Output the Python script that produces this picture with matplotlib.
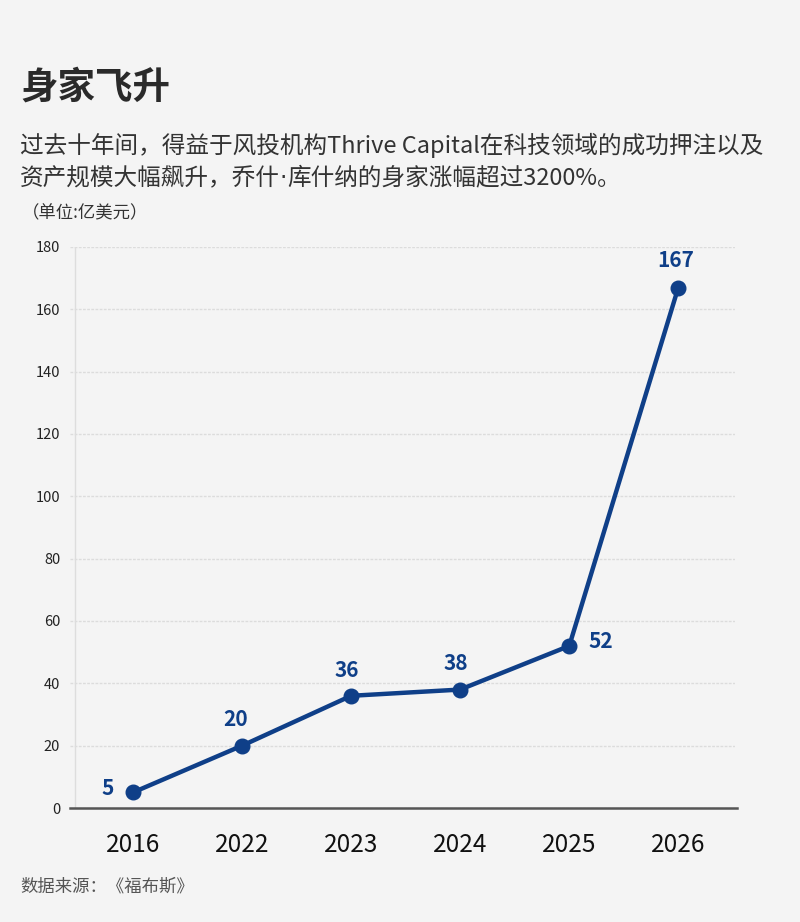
import matplotlib
matplotlib.use("Agg")
import matplotlib.pyplot as plt

plt.rcParams['font.family'] = ['Noto Sans CJK SC', 'DejaVu Sans']

years = ["2016", "2022", "2023", "2024", "2025", "2026"]
wealth = [5, 20, 36, 38, 52, 167]
yticks = [0, 20, 40, 60, 80, 100, 120, 140, 160, 180]

title = "身家飞升"
subtitle_1 = "过去十年间，得益于风投机构Thrive Capital在科技领域的成功押注以及"
subtitle_2 = ["资产规模大幅飙升，乔什", "·", "库什纳的身家涨幅超过3200%。"]
unit = "（单位:亿美元）"
source = "数据来源：《福布斯》"

BG = "#f4f4f4"
BLUE = "#0f3f88"

W, H = 800, 922
fig = plt.figure(figsize=(W / 100, H / 100), dpi=100, facecolor=BG)

ax_l, ax_r, ax_t, ax_b = 70, 735, 247, 808
ax = fig.add_axes([ax_l / W, 1 - ax_b / H, (ax_r - ax_l) / W, (ax_b - ax_t) / H])
ax.set_facecolor(BG)

x = list(range(len(years)))
ax.plot(x, wealth, color=BLUE, lw=3.2, marker="o", markersize=10.5,
        solid_joinstyle="round", clip_on=False, zorder=5)

ax.set_xlim(-0.578, 5.52)
ax.set_ylim(0, 180)
ax.set_yticks(yticks)
ax.set_yticklabels([str(v) for v in yticks])
ax.set_xticks(x)
ax.set_xticklabels(years)

for s in ax.spines.values():
    s.set_visible(False)
ax.grid(axis="y", color="#dcdcdc", lw=1.0, ls=(0, (2, 1)))
ax.set_axisbelow(True)
ax.tick_params(axis="y", length=0, pad=7, labelsize=10.5, labelcolor="#222222")
ax.tick_params(axis="x", length=0, pad=17, labelsize=17.5, labelcolor="#111111")
for lab in ax.get_yticklabels():
    lab.set_fontweight("light")

# left vertical guide & baseline
ax.plot([0.0075, 0.0075], [0, 1], transform=ax.transAxes, color="#dddddd", lw=1.0, zorder=1)
ax.axhline(0, color="#555555", lw=1.8, zorder=3, xmin=0, xmax=1.003, clip_on=False)

# data labels
offsets = [(-14, 3, "right", "center"), (-5, 11, "center", "bottom"),
           (-3, 11, "center", "bottom"), (-3, 11, "center", "bottom"),
           (14, 3, "left", "center"), (-2, 12, "center", "bottom")]
for xi, v, (dx, dy, ha, va) in zip(x, wealth, offsets):
    ax.annotate(str(v), (xi, v), xytext=(dx, dy), textcoords="offset points",
                ha=ha, va=va, fontsize=15, fontweight="bold", color=BLUE)

fig.text(20 / W, 1 - 87 / H, title, fontsize=27, fontweight="bold", color="#2a2a2a",
         ha="left", va="center")
fig.text(20 / W, 1 - 145 / H, subtitle_1, fontsize=17, color="#333333",
         ha="left", va="center")

# second subtitle line: narrow middle dot drawn in DejaVu Sans
renderer = fig.canvas.get_renderer()
xpos = 20
fams = [['Noto Sans CJK SC', 'DejaVu Sans'], ['DejaVu Sans'], ['Noto Sans CJK SC', 'DejaVu Sans']]
for piece, fam in zip(subtitle_2, fams):
    t = fig.text(xpos / W, 1 - 178 / H, piece, fontsize=17, color="#333333",
                 ha="left", va="center", family=fam)
    bb = t.get_window_extent(renderer)
    xpos += bb.width

fig.text(22 / W, 1 - 213 / H, unit, fontsize=12.5, color="#333333", ha="left", va="center")
fig.text(20 / W, 1 - 886 / H, source, fontsize=12.5, color="#555555", ha="left", va="center")

fig.savefig("out.png", dpi=100, facecolor=BG)
